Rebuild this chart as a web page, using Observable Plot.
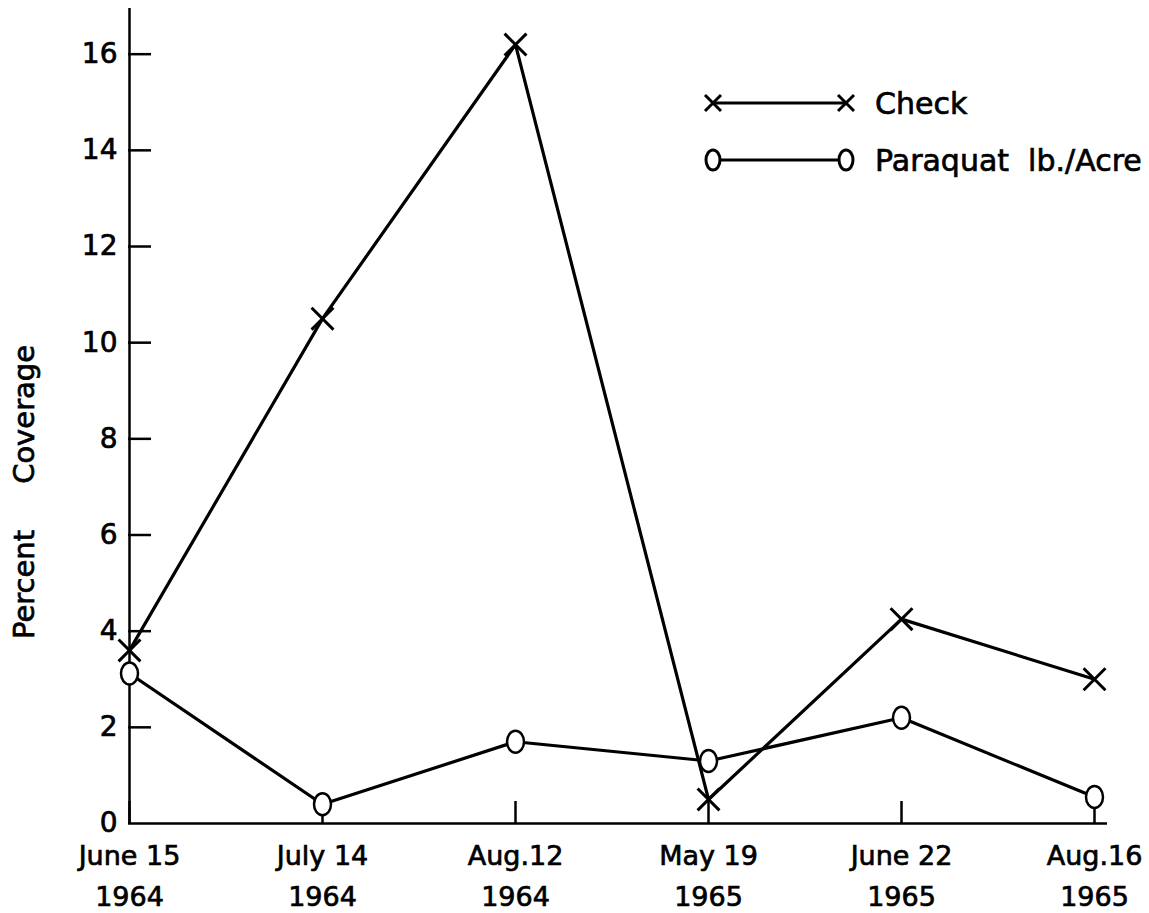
<!DOCTYPE html>
<html>
<head>
<meta charset="utf-8">
<script src="https://cdn.jsdelivr.net/npm/d3@7"></script>
<script src="https://cdn.jsdelivr.net/npm/@observablehq/plot@0.6"></script>
<style>
  html, body { margin: 0; padding: 0; background: #fff; }
  #wrap { position: relative; width: 1149px; height: 913px; }
  #legend { position: absolute; left: 690px; top: 75px; }
  svg text { stroke: black; stroke-width: 0.7px; }
</style>
</head>
<body>
<div id="wrap"></div>
<script>
const dates = ["June 15", "July 14", "Aug.12", "May 19", "June 22", "Aug.16"];
const years = ["1964", "1964", "1964", "1965", "1965", "1965"];
const check = [3.6, 10.5, 16.2, 0.5, 4.25, 3.0];
const paraquat = [3.12, 0.4, 1.7, 1.3, 2.2, 0.55];
const yTicks = [0, 2, 4, 6, 8, 10, 12, 14, 16];
const seriesNames = ["Check", "Paraquat\u00a0\u00a0lb./Acre"];
const yTitle = "Percent\u00a0\u00a0\u00a0\u00a0\u00a0Coverage";

const cats = dates.map((d, i) => d + "\n" + years[i]);
const checkData = cats.map((c, i) => ({x: c, y: check[i]}));
const paraData = cats.map((c, i) => ({x: c, y: paraquat[i]}));

const W = 1149, H = 913, mL = 128, mR = 54, mT = 8, mB = 90;
const frameW = W - mL - mR, frameH = H - mT - mB;
const font = "DejaVu Sans, sans-serif";

const ellipse = {
  draw(ctx) {
    const rx = 8.5, ry = 11, k = 0.5523;
    ctx.moveTo(rx, 0);
    ctx.bezierCurveTo(rx, ry * k, rx * k, ry, 0, ry);
    ctx.bezierCurveTo(-rx * k, ry, -rx, ry * k, -rx, 0);
    ctx.bezierCurveTo(-rx, -ry * k, -rx * k, -ry, 0, -ry);
    ctx.bezierCurveTo(rx * k, -ry, rx, -ry * k, rx, 0);
    ctx.closePath();
  }
};

const chart = Plot.plot({
  width: W, height: H,
  marginLeft: mL, marginRight: mR, marginTop: mT, marginBottom: mB,
  style: {fontFamily: font, color: "black", background: "white"},
  x: {type: "point", domain: cats, padding: 0, label: null},
  y: {domain: [0, 16.95], label: null},
  marks: [
    Plot.axisX({tickSize: 0, tickPadding: 12, fontSize: 27, lineHeight: 1.52, label: null}),
    Plot.axisY({ticks: yTicks, tickSize: 0, tickPadding: 11, fontSize: 28, label: null}),
    Plot.text([yTitle], {frameAnchor: "left", textAnchor: "middle", rotate: -90, dx: -104, dy: 76, fontSize: 29, fill: "black"}),
    Plot.ruleX([cats[0]], {stroke: "black", strokeWidth: 2.5}),
    Plot.ruleY([0], {stroke: "black", strokeWidth: 2.5, insetRight: -12}),
    Plot.tickY(yTicks.slice(1), {y: d => d, stroke: "black", strokeWidth: 2.5, insetRight: frameW - 23}),
    Plot.tickX(cats, {x: d => d, stroke: "black", strokeWidth: 2.5, insetTop: frameH - 22}),
    Plot.line(paraData, {x: "x", y: "y", stroke: "black", strokeWidth: 3.2}),
    Plot.line(checkData, {x: "x", y: "y", stroke: "black", strokeWidth: 3.2}),
    Plot.dot(checkData, {x: "x", y: "y", symbol: "times", r: 10, stroke: "black", strokeWidth: 3}),
    Plot.dot(paraData, {x: "x", y: "y", symbol: ellipse, fill: "white", stroke: "black", strokeWidth: 2.5})
  ]
});
document.getElementById("wrap").appendChild(chart);

// Legend
const lg = d3.select("#wrap").append("svg")
  .attr("id", "legend").attr("width", 459).attr("height", 120)
  .style("font-family", font);
const rows = [{y: 28, sym: "x"}, {y: 85, sym: "o"}];
rows.forEach((r, i) => {
  const x1 = 23, x2 = 156;
  lg.append("line").attr("x1", x1).attr("x2", x2).attr("y1", r.y).attr("y2", r.y)
    .attr("stroke", "black").attr("stroke-width", 3);
  [x1, x2].forEach(cx => {
    if (r.sym === "x") {
      const s = 8;
      lg.append("path").attr("d", `M${cx - s},${r.y - s}L${cx + s},${r.y + s}M${cx - s},${r.y + s}L${cx + s},${r.y - s}`)
        .attr("stroke", "black").attr("stroke-width", 3).attr("fill", "none");
    } else {
      lg.append("ellipse").attr("cx", cx).attr("cy", r.y).attr("rx", 7).attr("ry", 10)
        .attr("fill", "white").attr("stroke", "black").attr("stroke-width", 3);
    }
  });
  lg.append("text").attr("x", 185).attr("y", r.y).attr("dy", "0.36em")
    .attr("font-size", 30).attr("fill", "black").text(seriesNames[i]);
});
</script>
</body>
</html>
